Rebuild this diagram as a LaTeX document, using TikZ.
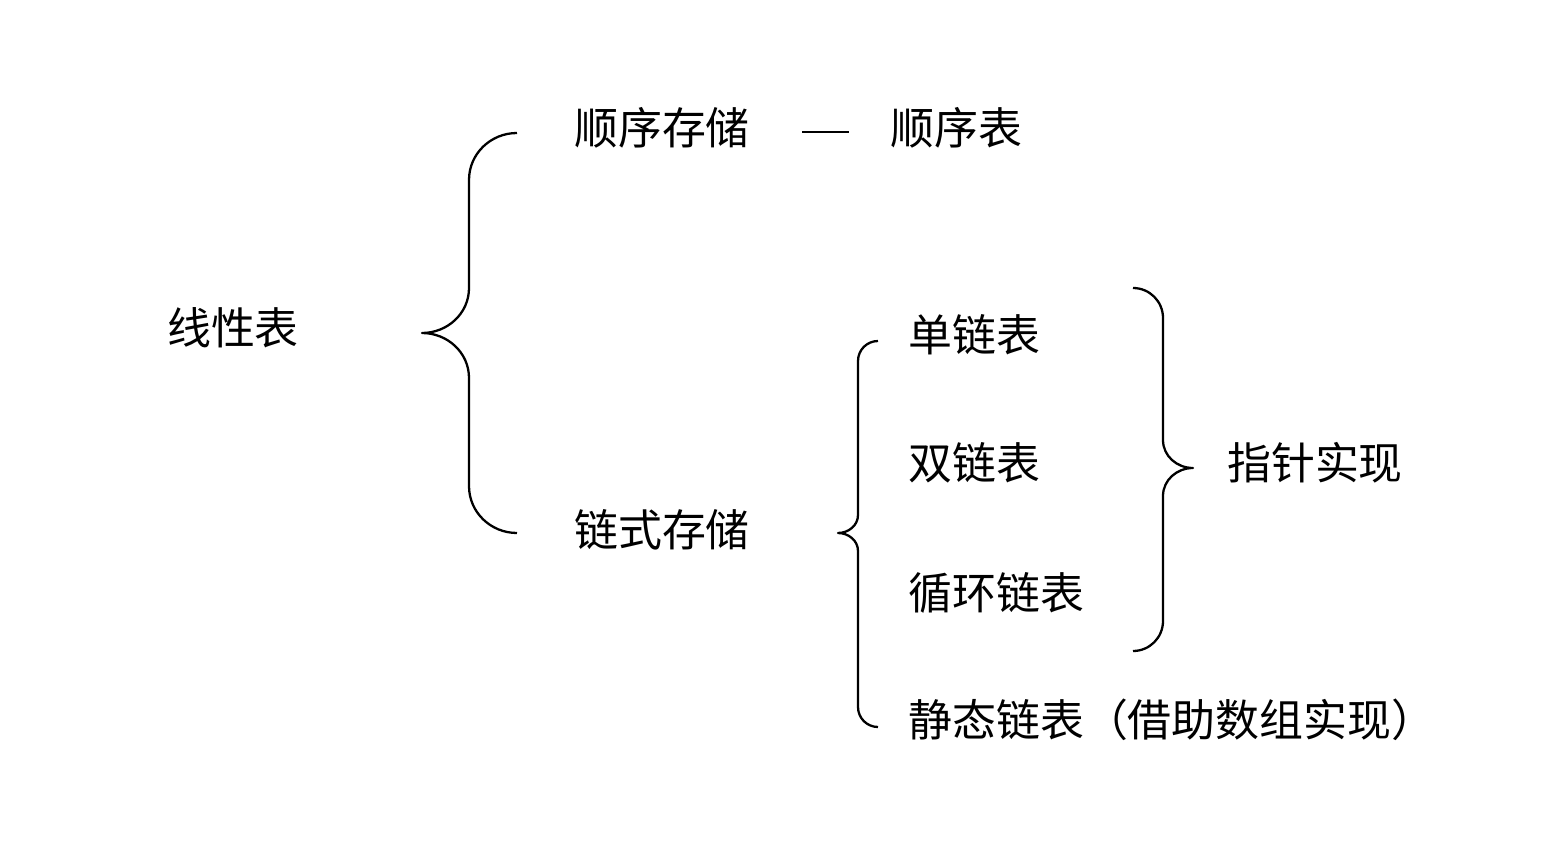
\documentclass[tikz,border=0pt]{standalone}
\usepackage{fontspec}
\newfontfamily\cjk{Noto Sans CJK SC}
\tikzset{
  label/.style={font=\cjk\fontsize{25}{30}\selectfont, inner sep=0pt},
  brace/.style={line width=1.3pt, line join=round}
}
\begin{document}
\begin{tikzpicture}[x=0.02cm,y=-0.02cm]
        \useasboundingbox (0,0) rectangle (1543,855);
        % texts
        \node[label] (lin) at (233,328) {线性表};
        \node[label] (seq) at (662,128) {顺序存储};
        \node[label,anchor=west] (seqtab) at (890,128) {顺序表};
        \node[label] (link) at (662,530) {链式存储};
        \node[label,anchor=west] (single) at (908,335) {单链表};
        \node[label,anchor=west] (double) at (908,463) {双链表};
        \node[label,anchor=west] (circ) at (908,593) {循环链表};
        \node[label,anchor=west] (static) at (908,720) {静态链表（借助数组实现）};
        \node[label] (ptr) at (1315,463) {指针实现};
        \draw[brace] (seq.east) ++(52,4) coordinate (a) -- ([xshift=-18\pgflinewidth]seqtab.west |- a);
        % braces
        \draw[brace] (517,133) to[out=180,in=90] (469,180) -- (469,288)
            to[out=-90,in=0] (422,333) to[out=0,in=90] (469,378) -- (469,486)
            to[out=-90,in=180] (517,533);
        \draw[brace] (878,341) to[out=180,in=90] (858,361) -- (858,515)
            to[out=-90,in=0] (838,533) to[out=0,in=90] (858,551) -- (858,707)
            to[out=-90,in=180] (878,727);
        \draw[brace] (1133,288) to[out=0,in=90] (1163,318) -- (1163,440)
            to[out=-90,in=180] (1193,468) to[out=180,in=90] (1163,496) -- (1163,621)
            to[out=-90,in=0] (1133,651);
    \end{tikzpicture}
\end{document}
